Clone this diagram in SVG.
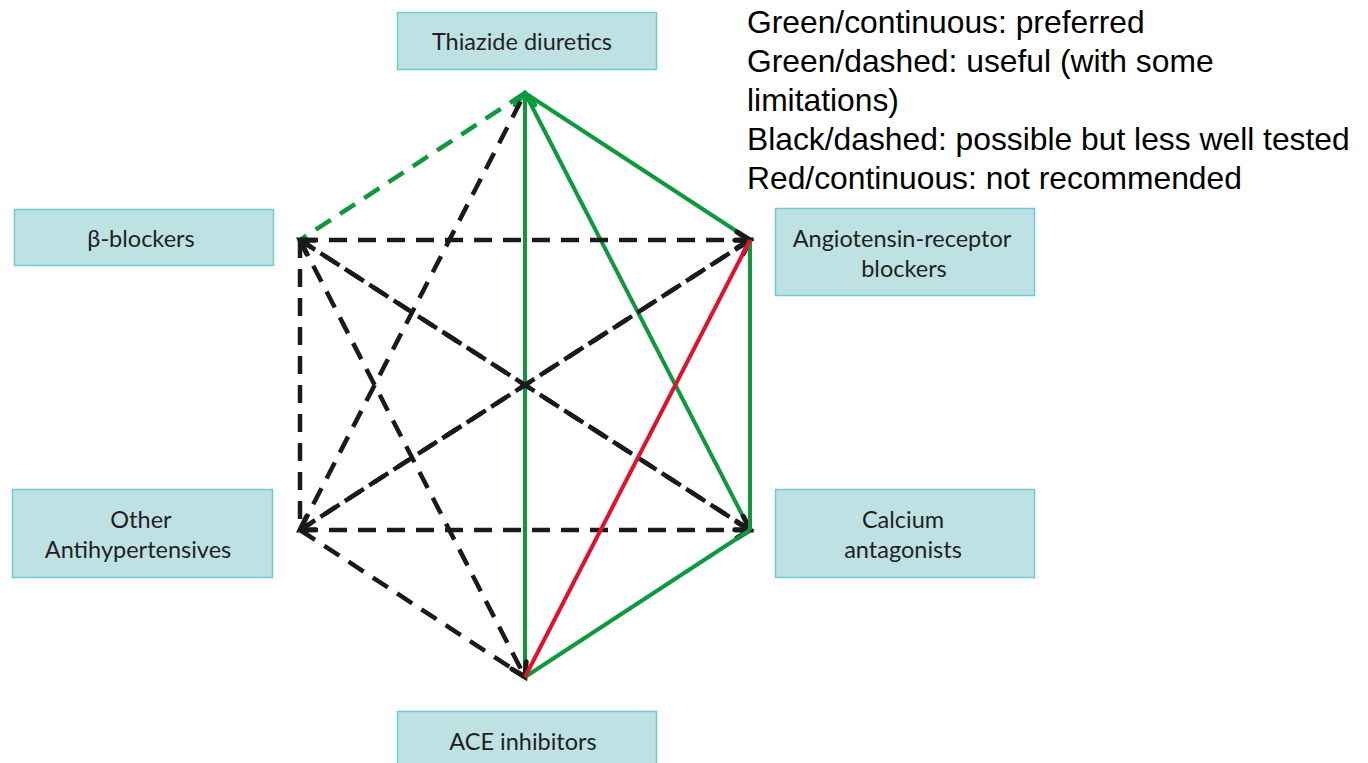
<svg xmlns="http://www.w3.org/2000/svg" width="1368" height="763" viewBox="0 0 1368 763">
<style>
.box{fill:#bee2e4;stroke:#6fcbd3;stroke-width:1.5}
.lbl{font-family:Lato,"Open Sans",sans-serif;font-size:23.5px;fill:#231f20;text-anchor:middle}
.leg{font-family:"Liberation Sans",Arial,sans-serif;font-size:31.8px;fill:#000}
.bd{stroke:#1a1a1a;stroke-width:4.5;stroke-dasharray:18 11;fill:none}
.gd{stroke:#0c9a3c;stroke-width:4.5;stroke-dasharray:18 11;fill:none}
.gs{stroke:#0c9a3c;stroke-width:4;fill:none}
.rs{stroke:#e3102b;stroke-width:4;fill:none}
</style>
<defs>
<marker id="ab" markerUnits="userSpaceOnUse" markerWidth="40" markerHeight="40" refX="0" refY="0" orient="auto" overflow="visible">
<path d="M-13,-8 L0,0 L-13,8" fill="none" stroke="#1a1a1a" stroke-width="5" stroke-linecap="round" stroke-linejoin="miter"/>
</marker>
<marker id="ag" markerUnits="userSpaceOnUse" markerWidth="40" markerHeight="40" refX="0" refY="0" orient="auto" overflow="visible">
<path d="M-12,-10 L0,0 L-12,10" fill="none" stroke="#0c9a3c" stroke-width="4.5" stroke-linecap="round" stroke-linejoin="miter"/>
</marker>
</defs>
<rect width="1368" height="763" fill="#fff"/>
<g id="connectors">
<line class="gd" x1="525" y1="93" x2="300" y2="240"/>
<line class="gs" x1="525" y1="93" x2="750" y2="240"/>
<line class="gs" x1="525" y1="93" x2="750" y2="530"/>
<line class="gs" x1="525" y1="677" x2="525" y2="93" marker-end="url(#ag)"/>
<line class="bd" x1="300" y1="530" x2="525" y2="93"/>
<line class="bd" x1="300" y1="240" x2="750" y2="240" marker-end="url(#ab)"/>
<line class="bd" x1="750" y1="530" x2="300" y2="240" marker-end="url(#ab)"/>
<line class="bd" x1="300" y1="240" x2="750" y2="530" marker-end="url(#ab)"/>
<line class="bd" x1="300" y1="240" x2="300" y2="530"/>
<line class="bd" x1="300" y1="240" x2="525" y2="677" marker-end="url(#ab)"/>
<line class="bd" x1="750" y1="240" x2="300" y2="530" marker-end="url(#ab)"/>
<line class="bd" x1="300" y1="530" x2="750" y2="240" marker-end="url(#ab)"/>
<line class="bd" x1="300" y1="530" x2="750" y2="530" marker-end="url(#ab)"/>
<line class="bd" x1="300" y1="530" x2="525" y2="677"/>
<line class="gs" x1="750" y1="240" x2="750" y2="530"/>
<line class="gs" x1="750" y1="530" x2="525" y2="677"/>
<line class="rs" x1="750" y1="240" x2="525" y2="677"/>
</g>
<g id="thiazide"><rect class="box" x="397.5" y="12.5" width="259" height="57"/><text class="lbl" x="522" y="50">Thiazide diuretics</text></g>
<g id="beta"><rect class="box" x="14.5" y="209.5" width="259" height="56"/><text class="lbl" x="141" y="247">β-blockers</text></g>
<g id="arb"><rect class="box" x="775.5" y="208.5" width="259" height="87"/><text class="lbl" x="902" y="247">Angiotensin-receptor</text><text class="lbl" x="904" y="277">blockers</text></g>
<g id="other"><rect class="box" x="12.5" y="489.5" width="260" height="88"/><text class="lbl" x="141" y="528">Other</text><text class="lbl" x="138" y="558">Antihypertensives</text></g>
<g id="calcium"><rect class="box" x="775.5" y="489.5" width="259" height="88"/><text class="lbl" x="903" y="528">Calcium</text><text class="lbl" x="903" y="558">antagonists</text></g>
<g id="ace"><rect class="box" x="397.5" y="711.5" width="259" height="60"/><text class="lbl" x="523" y="750">ACE inhibitors</text></g>
<g id="legend">
<text class="leg" x="747" y="33">Green/continuous: preferred</text>
<text class="leg" x="747" y="72">Green/dashed: useful (with some</text>
<text class="leg" x="747" y="111">limitations)</text>
<text class="leg" x="747" y="150">Black/dashed: possible but less well tested</text>
<text class="leg" x="747" y="189">Red/continuous: not recommended</text>
</g>
</svg>
